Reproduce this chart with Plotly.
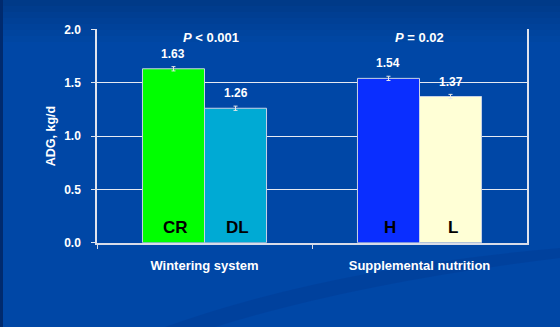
import plotly.graph_objects as go

# ---- data ----
groups = ["Wintering system", "Supplemental nutrition"]
first_labels = ["CR", "H"]
second_labels = ["DL", "L"]
first_values = [1.63, 1.54]
second_values = [1.26, 1.37]
first_err = [0.02, 0.02]
second_err = [0.02, 0.02]
p_labels = ["<i>P</i> &lt; 0.001", "<i>P</i> = 0.02"]
y_ticks = [0.0, 0.5, 1.0, 1.5, 2.0]
y_title = "ADG, kg/d"

# ---- styles ----
first_colors = ["#00FF00", "#0A2EFF"]
second_colors = ["#00AAD4", "#FFFFD6"]
W, H = 560, 327
FONT = "Liberation Sans, Arial, sans-serif"
BG = "#0047A6"
bargap = 0.423
bw = (1 - bargap) / 2


def px(x):
    return x / W


def py(y):
    return 1 - y / H


fig = go.Figure()
fig.add_trace(go.Bar(x=groups, y=first_values, marker=dict(color=first_colors, line=dict(color="#c8d2e6", width=1)),
                     error_y=dict(type="data", array=first_err, color="#e8e8e8", thickness=1, width=2),
                     showlegend=False, hoverinfo="skip"))
fig.add_trace(go.Bar(x=groups, y=second_values, marker=dict(color=second_colors, line=dict(color="#c8d2e6", width=1)),
                     error_y=dict(type="data", array=second_err, color="#e8e8e8", thickness=1, width=2),
                     showlegend=False, hoverinfo="skip"))

ann = []
for i in range(len(groups)):
    for off, lab, val, err in [(-bw / 2, first_labels[i], first_values[i], first_err[i]),
                               (bw / 2, second_labels[i], second_values[i], second_err[i])]:
        ann.append(dict(x=i + off, y=val, xref="x", yref="y", text=f"<b>{val:.2f}</b>", showarrow=False,
                        yanchor="middle", yshift=15, font=dict(family=FONT, size=12, color="white")))
        ann.append(dict(x=i + off, y=0, xref="x", yref="y", text=f"<b>{lab}</b>", showarrow=False,
                        yanchor="bottom", yshift=4, xshift=2, font=dict(family=FONT, size=17, color="black")))
    ann.append(dict(x=i, y=1.92, xref="x", yref="y", text=f"<b>{p_labels[i]}</b>", showarrow=False,
                    yanchor="middle", xshift=6 if i == 0 else 0, font=dict(family=FONT, size=13, color="white")))

shapes = []
# top gradient bands
top_cols = ["#003A88", "#003C8D", "#003E92", "#004096", "#00429A", "#00449E", "#0046A2"]
for k, c in enumerate(top_cols):
    shapes.append(dict(type="rect", xref="paper", yref="paper", x0=0, x1=1, y0=py(6 * (k + 1)), y1=py(6 * k),
                       fillcolor=c, line=dict(width=0), layer="below"))
# left dark strip
shapes.append(dict(type="rect", xref="paper", yref="paper", x0=0, x1=px(3), y0=0, y1=1,
                   fillcolor="#002A6E", line=dict(width=0), layer="below"))
# swoosh band
path = (f"M {px(165)},{py(327)} Q {px(330)},{py(268)} {px(560)},{py(248)} "
        f"L {px(560)},{py(258)} Q {px(360)},{py(282)} {px(215)},{py(327)} Z")
shapes.append(dict(type="path", xref="paper", yref="paper", path=path, fillcolor="#003E98",
                   line=dict(width=0), layer="below", opacity=0.6))

fig.update_layout(
    width=W, height=H, margin=dict(l=0, r=0, t=0, b=0, autoexpand=False),
    paper_bgcolor=BG, plot_bgcolor="rgba(0,0,0,0)",
    barmode="group", bargap=bargap, bargroupgap=0,
    annotations=ann, shapes=shapes,
    xaxis=dict(domain=[px(97), px(527)], type="category", tickson="boundaries", ticks="outside",
               ticklen=4, tickcolor="#d8dce8", showline=True, linecolor="#d8dce8", linewidth=2,
               tickfont=dict(family=FONT, size=13, color="white", weight="bold"), showgrid=False,
               ticklabelstandoff=10, automargin=False),
    yaxis=dict(domain=[py(242.7), py(29.3)], range=[0, 2], tickvals=y_ticks, tickformat=".1f",
               ticks="outside", ticklen=4, tickcolor="#e0e4ee", showline=True, mirror=True,
               linecolor="#e0e4ee", linewidth=1.5, showgrid=True, gridcolor="#e6eaf2", gridwidth=1,
               zeroline=False, tickfont=dict(family=FONT, size=12, color="white", weight="bold"),
               ticklabelstandoff=8, automargin=False,
               title=dict(text=y_title, font=dict(family=FONT, size=12.5, color="white", weight="bold"),
                          standoff=6)),
)

fig.write_html("out.html")
